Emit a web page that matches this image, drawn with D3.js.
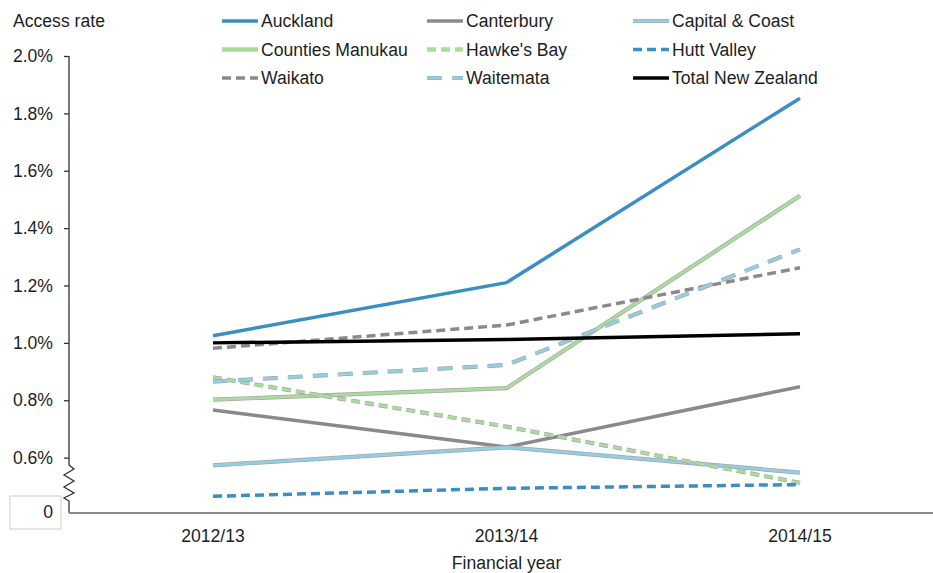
<!DOCTYPE html>
<html>
<head>
<meta charset="utf-8">
<script src="https://cdn.jsdelivr.net/npm/d3@7"></script>
<style>
  body { margin: 0; background: #fff; }
  text { font-family: "Liberation Sans", Arial, sans-serif; fill: #1e1e1e; }
</style>
</head>
<body>
<div id="canvas"></div>
<script>
// Data
var years = ["2012/13", "2013/14", "2014/15"]
var auckland   = [1.025, 1.21, 1.853]
var canterbury = [0.766, 0.637, 0.847]
var capital    = [0.573, 0.636, 0.548]
var counties   = [0.802, 0.842, 1.513]
var hawkes     = [0.880, 0.708, 0.512]
var hutt       = [0.465, 0.493, 0.506]
var waikato    = [0.981, 1.062, 1.262]
var waitemata  = [0.865, 0.923, 1.326]
var total_nz   = [1.000, 1.012, 1.032]
var y_ticks = [0.6, 0.8, 1.0, 1.2, 1.4, 1.6, 1.8, 2.0]

// Display variables
var total_width = 933, total_height = 573
var font_size = 17.6
var blue = "#3a8ec2", grey = "#8a8a8a", light_blue = "#93cfe3", light_green = "#a9dc9d"
var short_dash = "9,5", long_dash = "15,10"

var series = [
  {name: "Auckland", values: auckland, colour: blue, dash: null, outline: false},
  {name: "Canterbury", values: canterbury, colour: grey, dash: null, outline: false},
  {name: "Capital & Coast", values: capital, colour: light_blue, dash: null, outline: true},
  {name: "Counties Manukau", values: counties, colour: light_green, dash: null, outline: true},
  {name: "Hawke's Bay", values: hawkes, colour: light_green, dash: short_dash, outline: true},
  {name: "Hutt Valley", values: hutt, colour: blue, dash: short_dash, outline: false},
  {name: "Waikato", values: waikato, colour: grey, dash: short_dash, outline: false},
  {name: "Waitemata", values: waitemata, colour: light_blue, dash: long_dash, outline: true},
  {name: "Total New Zealand", values: total_nz, colour: "#000", dash: null, outline: false}
]

var svg = d3.select("#canvas").append("svg").attr("width", total_width).attr("height", total_height)

// Scales
var x = d3.scalePoint().domain(years).range([213, 800])
var y = d3.scaleLinear().domain([0.4, 2.0]).range([515, 56])
var axis_x = 69, base_y = 513

// Y axis ticks (domain line drawn by hand for the break)
var y_axis = svg.append("g")
    .attr("transform", "translate(" + axis_x + ",0)")
    .call(d3.axisLeft(y).tickValues(y_ticks).tickSize(5).tickSizeOuter(0).tickFormat(d => d3.format(".1f")(d) + "%"))
y_axis.select(".domain").remove()
y_axis.selectAll(".tick line").attr("stroke", "#333").attr("stroke-width", 1.3)
y_axis.selectAll(".tick text").attr("x", -16).style("font-size", font_size + "px")
    .attr("font-family", null).attr("fill", "#1e1e1e")

// Axis line with zigzag break
var zz = [[0, 56], [0, 465], [5, 469], [-5, 475], [5, 481], [-5, 487], [5, 493], [-5, 498], [0, 501], [0, base_y]]
svg.append("path")
    .attr("d", d3.line()(zz.map(p => [axis_x + p[0], p[1]])))
    .attr("fill", "none").attr("stroke", "#333").attr("stroke-width", 1.3)

// "0" label in its box
svg.append("rect").attr("x", 10).attr("y", 496).attr("width", 51).attr("height", 33)
    .attr("fill", "#fff").attr("stroke", "#ccc").attr("stroke-width", 1)
svg.append("text").attr("x", 53).attr("y", 512).attr("dy", "0.35em")
    .attr("text-anchor", "end").style("font-size", font_size + "px").text("0")

// X axis
svg.append("line").attr("x1", axis_x).attr("x2", 933).attr("y1", base_y).attr("y2", base_y)
    .attr("stroke", "#888").attr("stroke-width", 2)
svg.selectAll(".x_lab").data(years).enter().append("text")
    .attr("class", "x_lab")
    .attr("x", d => x(d)).attr("y", 536).attr("dy", "0.35em")
    .attr("text-anchor", "middle").style("font-size", font_size + "px").text(d => d)
svg.append("text").attr("x", x("2013/14")).attr("y", 563).attr("dy", "0.35em")
    .attr("text-anchor", "middle").style("font-size", font_size + "px").text("Financial year")

// Y title
svg.append("text").attr("x", 13).attr("y", 21).attr("dy", "0.35em")
    .style("font-size", font_size + "px").text("Access rate")

// Lines
var line = d3.line().x((d, i) => x(years[i])).y(d => y(d))
series.forEach(function (s) {
    if (s.outline) {
        svg.append("path").attr("d", line(s.values)).attr("fill", "none")
            .attr("stroke", "#a5a5a5").attr("stroke-width", 4.2)
            .attr("stroke-dasharray", s.dash).attr("stroke-linejoin", "round")
    }
    svg.append("path").attr("d", line(s.values)).attr("fill", "none")
        .attr("stroke", s.colour).attr("stroke-width", s.outline ? 2.8 : 3.5)
        .attr("stroke-dasharray", s.dash).attr("stroke-linejoin", "round")
})

// Legend (3 columns)
var leg_x = [222, 427, 633], leg_y = [21, 49.5, 78]
series.forEach(function (s, i) {
    var lx = leg_x[i % 3], ly = leg_y[Math.floor(i / 3)]
    var g = svg.append("g").attr("transform", "translate(" + lx + "," + ly + ")")
    if (s.outline) {
        g.append("line").attr("x1", 0).attr("x2", 36).attr("stroke", "#a5a5a5")
            .attr("stroke-width", 4.2).attr("stroke-dasharray", s.dash)
    }
    g.append("line").attr("x1", 0).attr("x2", 36).attr("stroke", s.colour)
        .attr("stroke-width", s.outline ? 2.8 : 3.5).attr("stroke-dasharray", s.dash)
    g.append("text").attr("x", 39).attr("dy", "0.35em").style("font-size", font_size + "px").text(s.name)
})
</script>
</body>
</html>
